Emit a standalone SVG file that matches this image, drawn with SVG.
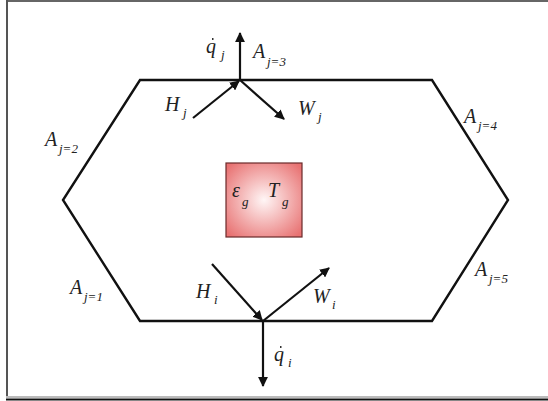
<svg xmlns="http://www.w3.org/2000/svg" width="548" height="401" viewBox="0 0 548 401">
<style>
.t{font-family:"Liberation Serif","Times New Roman",serif;font-style:italic;fill:#222}
.m{font-size:20px}
.s{font-size:13px}
.edge{fill:none;stroke:#111;stroke-width:2.4}
.arr{stroke:#111;stroke-width:2.2;fill:none;marker-end:url(#ah)}
</style>
<defs>
<marker id="ah" viewBox="0 0 10 10" refX="9" refY="5" markerWidth="4.5" markerHeight="4.5" orient="auto" markerUnits="strokeWidth">
<path d="M0,0 L10,5 L0,10 z" fill="#111"/>
</marker>
<radialGradient id="rg" cx="0.5" cy="0.5" r="0.65">
<stop offset="0" stop-color="#fff6f6"/>
<stop offset="1" stop-color="#e87272"/>
</radialGradient>
</defs>
<rect width="548" height="401" fill="#fff"/>
<g id="frame" stroke-width="2">
<line x1="6" y1="1" x2="548" y2="1" stroke="#666"/>
<line x1="7" y1="0" x2="7" y2="398" stroke="#555"/>
<line x1="6" y1="397" x2="548" y2="397" stroke="#bbb"/>
<line x1="6" y1="399.5" x2="548" y2="399.5" stroke="#111"/>
</g>
<g id="hexagon">
<polygon class="edge" points="140,80 432,80 508,200 432,321 140,321 63,200"/>
</g>
<g id="gas">
<rect x="226" y="163" width="76" height="74" fill="url(#rg)" stroke="#6a2a2a" stroke-width="1.2"/>
<text class="t m" x="232" y="197">ε</text><text class="t s" x="242" y="206">g</text>
<text class="t m" x="268" y="197">T</text><text class="t s" x="282" y="206">g</text>
</g>
<g id="connectors">
<line class="arr" x1="240" y1="80" x2="240" y2="33"/>
<line class="arr" x1="193" y1="118" x2="239" y2="81"/>
<line class="arr" x1="240" y1="80" x2="284" y2="119"/>
<line class="arr" x1="212" y1="264" x2="262" y2="320"/>
<line class="arr" x1="263" y1="321" x2="329" y2="268"/>
<line class="arr" x1="263" y1="321" x2="263" y2="386"/>
</g>
<g id="labels">
<text class="t m" x="206" y="53">q</text><text class="t s" x="221" y="59">j</text>
<line x1="212" y1="39" x2="213.5" y2="39" stroke="#333" stroke-width="1.8"/>
<text class="t m" x="253" y="58">A</text><text class="t s" x="267" y="66">j=3</text>
<text class="t m" x="165" y="111">H</text><text class="t s" x="183" y="117">j</text>
<text class="t m" x="298" y="115">W</text><text class="t s" x="318" y="121">j</text>
<text class="t m" x="45" y="146">A</text><text class="t s" x="59" y="153">j=2</text>
<text class="t m" x="464" y="123">A</text><text class="t s" x="478" y="130">j=4</text>
<text class="t m" x="70" y="294">A</text><text class="t s" x="84" y="301">j=1</text>
<text class="t m" x="475" y="276">A</text><text class="t s" x="489" y="283">j=5</text>
<text class="t m" x="196" y="298">H</text><text class="t s" x="214" y="304">i</text>
<text class="t m" x="313" y="303">W</text><text class="t s" x="332" y="309">i</text>
<text class="t m" x="274" y="361">q</text><text class="t s" x="288" y="367">i</text>
<line x1="280" y1="347" x2="281.5" y2="347" stroke="#333" stroke-width="1.8"/>
</g>
</svg>
